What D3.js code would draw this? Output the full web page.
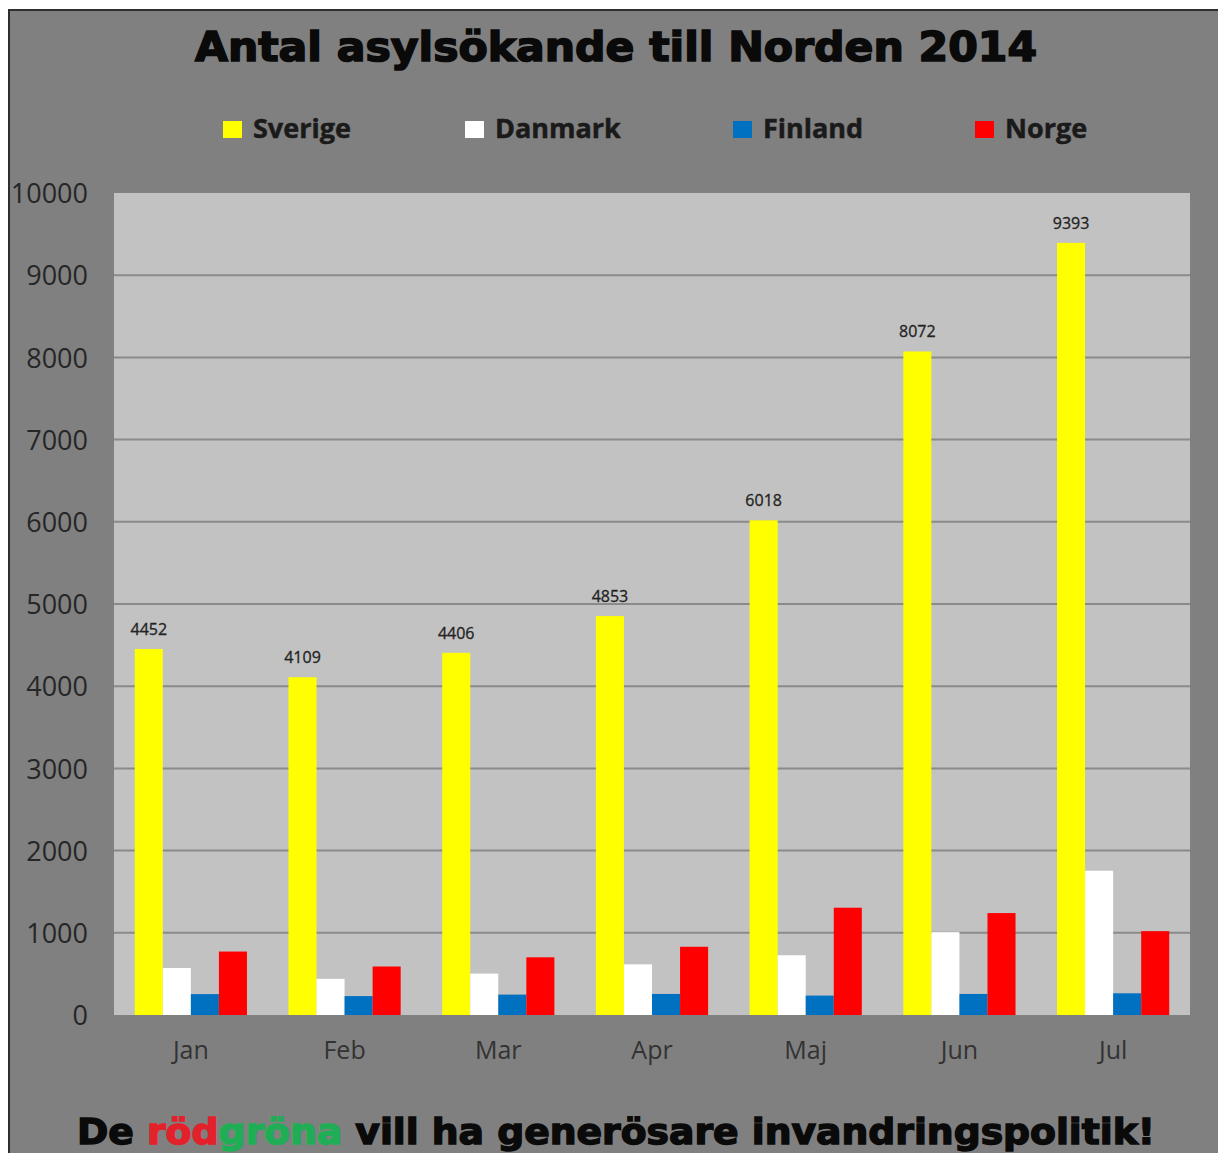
<!DOCTYPE html>
<html>
<head>
<meta charset="utf-8">
<script src="https://cdn.jsdelivr.net/npm/d3@7"></script>
<style>
  body { margin: 0; background: #fff; }
  svg { display: block; }
</style>
</head>
<body>
<svg id="chart"></svg>
<script>
var months = ["Jan", "Feb", "Mar", "Apr", "Maj", "Jun", "Jul"];
var countries = ["Sverige", "Danmark", "Finland", "Norge"];
var sverige = [4452, 4109, 4406, 4853, 6018, 8072, 9393];
var danmark = [572, 440, 504, 616, 727, 1008, 1755];
var finland = [254, 230, 248, 256, 236, 256, 264];
var norge = [772, 590, 702, 830, 1305, 1240, 1020];
var yTicks = [0, 1000, 2000, 3000, 4000, 5000, 6000, 7000, 8000, 9000, 10000];
var colors = ["#ffff00", "#ffffff", "#0070c0", "#ff0000"];

var width = 1218,
    height = 1153;

var series = [sverige, danmark, finland, norge];
var rows = months.map(function(m, i) {
    return {month: m, values: countries.map(function(c, k) { return {country: c, value: series[k][i]}; })};
});

var margin = {top: 193, right: 28, bottom: 138, left: 114},
    innerwidth = width - margin.left - margin.right,
    innerheight = height - margin.top - margin.bottom;

var svg = d3.select("#chart").attr("width", width).attr("height", height);

// frame: white strip top/left, dark edge, gray fill
svg.append("rect").attr("width", width).attr("height", height).attr("fill", "#ffffff");
svg.append("rect").attr("x", 8).attr("y", 9).attr("width", width - 8).attr("height", height - 9)
    .attr("fill", "#2e2e2e");
svg.append("rect").attr("x", 10).attr("y", 11).attr("width", width - 10).attr("height", height - 11)
    .attr("fill", "#808080");

svg.append("text")
    .attr("x", 616).attr("y", 61)
    .attr("text-anchor", "middle")
    .attr("textLength", 842).attr("lengthAdjust", "spacingAndGlyphs")
    .style("font-family", "'DejaVu Sans', sans-serif")
    .style("font-weight", "bold")
    .style("font-size", "40px")
    .attr("fill", "#0a0a0a")
    .attr("stroke", "#0a0a0a")
    .attr("stroke-width", 1.6)
    .text("Antal asylsökande till Norden 2014");

// legend
var legendX = [223, 465, 733, 975];
var legend = svg.append("g").attr("class", "legend");
countries.forEach(function(c, k) {
    legend.append("rect")
        .attr("x", legendX[k]).attr("y", 121)
        .attr("width", 19).attr("height", 17)
        .attr("fill", colors[k]);
    legend.append("text")
        .attr("x", legendX[k] + 30).attr("y", 138)
        .style("font-family", "'Open Sans', sans-serif")
        .style("font-weight", "bold")
        .style("font-size", "27px")
        .attr("fill", "#1a1a1a")
        .attr("stroke", "#1a1a1a")
        .attr("stroke-width", 0.5)
        .text(c);
});

var x0 = d3.scaleBand()
    .domain(months)
    .range([0, innerwidth])
    .paddingInner(0.27)
    .paddingOuter(0.135);

var x1 = d3.scaleBand()
    .domain(countries)
    .range([0, x0.bandwidth()]);

var yScale = d3.scaleLinear()
    .domain([0, 10000])
    .range([innerheight, 0]);

var wrapper = svg.append("g")
    .attr("transform", "translate(" + margin.left + "," + margin.top + ")");

wrapper.append("rect")
    .attr("width", innerwidth).attr("height", innerheight)
    .attr("fill", "#c2c2c2");

wrapper.append("g")
    .attr("class", "y grid")
    .selectAll("line")
    .data(yTicks.filter(function(t) { return t > 0 && t < 10000; }))
    .enter()
    .append("line")
    .attr("x1", 0).attr("x2", innerwidth)
    .attr("y1", function(d) { return yScale(d); })
    .attr("y2", function(d) { return yScale(d); })
    .attr("stroke", "#8a8a8a")
    .attr("stroke-width", 2);

var groups = wrapper.append("g")
    .attr("class", "content")
    .selectAll("g")
    .data(rows)
    .enter()
    .append("g")
    .attr("transform", function(d) { return "translate(" + x0(d.month) + ",0)"; });

groups.selectAll("rect")
    .data(function(d) { return d.values; })
    .enter()
    .append("rect")
    .attr("x", function(d) { return x1(d.country); })
    .attr("width", x1.bandwidth())
    .attr("y", function(d) { return yScale(d.value); })
    .attr("height", function(d) { return innerheight - yScale(d.value); })
    .attr("fill", function(d, k) { return colors[k]; });

groups.append("text")
    .attr("x", x1("Sverige") + x1.bandwidth() / 2)
    .attr("y", function(d) { return yScale(d.values[0].value) - 14; })
    .attr("text-anchor", "middle")
    .style("font-family", "'Open Sans', sans-serif")
    .style("font-size", "16px")
    .attr("fill", "#222")
    .attr("stroke", "#222")
    .attr("stroke-width", 0.3)
    .text(function(d) { return d.values[0].value; });

// axes without domain lines
var yAxis = d3.axisLeft(yScale).tickValues(yTicks).tickSize(0).tickPadding(26).tickFormat(d3.format("d"));
wrapper.append("g")
    .attr("class", "y axis")
    .call(yAxis)
    .call(function(g) { g.select(".domain").remove(); })
    .selectAll("text")
    .attr("dy", "0.36em")
    .style("font-family", "'Open Sans', sans-serif")
    .style("font-size", "27px")
    .attr("fill", "#262626");

var xAxis = d3.axisBottom(x0).tickSize(0).tickPadding(26);
wrapper.append("g")
    .attr("class", "x axis")
    .attr("transform", "translate(0," + innerheight + ")")
    .call(xAxis)
    .call(function(g) { g.select(".domain").remove(); })
    .selectAll("text")
    .style("font-family", "'Open Sans', sans-serif")
    .style("font-size", "25px")
    .attr("fill", "#333");

var slogan = svg.append("text")
    .attr("x", 77).attr("y", 1144)
    .attr("textLength", 1078).attr("lengthAdjust", "spacingAndGlyphs")
    .style("font-family", "'DejaVu Sans', sans-serif")
    .style("font-weight", "bold")
    .style("font-size", "35px")
    .attr("fill", "#0a0a0a")
    .attr("stroke", "#0a0a0a")
    .attr("stroke-width", 1.4);
slogan.append("tspan").text("De ");
slogan.append("tspan").attr("fill", "#e3212b").attr("stroke", "#e3212b").text("röd");
slogan.append("tspan").attr("fill", "#1fae55").attr("stroke", "#1fae55").text("gröna");
slogan.append("tspan").text(" vill ha generösare invandringspolitik!");
</script>
</body>
</html>
